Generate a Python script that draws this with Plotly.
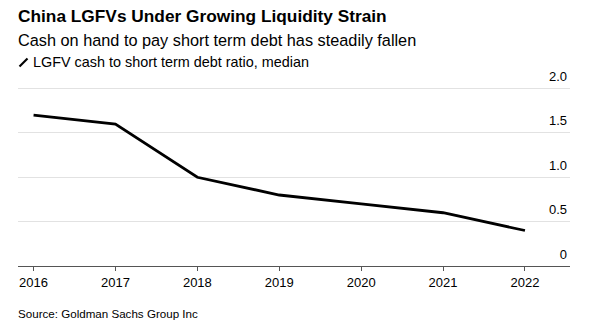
import plotly.graph_objects as go

# Median LGFV cash-to-short-term-debt ratio by year
years = [2016, 2017, 2018, 2019, 2020, 2021, 2022]
ratio = [1.7, 1.6, 1.0, 0.8, 0.7, 0.6, 0.4]
y_ticks = [0, 0.5, 1.0, 1.5, 2.0]
y_tick_text = ["0", "0.5", "1.0", "1.5", "2.0"]

title = "China LGFVs Under Growing Liquidity Strain"
subtitle = "Cash on hand to pay short term debt has steadily fallen"
series_name = "LGFV cash to short term debt ratio, median"
source = "Source: Goldman Sachs Group Inc"

FONT = "Liberation Sans, Arial, Helvetica, sans-serif"

W, H = 599, 325
M_L, M_R, M_T, M_B = 18, 29, 66, 59
PLOT_H = H - M_T - M_B
PX_PER_UNIT = 88.75  # vertical pixels per 1.0 of ratio
Y_MAX = PLOT_H / PX_PER_UNIT


def py(pix):
    """Convert a pixel row (from top) to paper y coordinate."""
    return (H - M_B - pix) / PLOT_H


def px(pix):
    """Convert a pixel column (from left) to paper x coordinate."""
    return (pix - M_L) / (W - M_L - M_R)


fig = go.Figure()
fig.add_trace(go.Scatter(
    x=years, y=ratio, mode="lines", name=series_name,
    line=dict(color="#000000", width=2.8),
    showlegend=False, hoverinfo="x+y",
))

fig.update_layout(
    width=W, height=H,
    margin=dict(l=M_L, r=M_R, t=M_T, b=M_B),
    paper_bgcolor="#ffffff", plot_bgcolor="#ffffff",
    font=dict(family=FONT, color="#000000"),
    xaxis=dict(
        range=[2015.81, 2022.55],
        tickmode="array", tickvals=years, ticktext=[str(y) for y in years],
        showgrid=False, zeroline=False,
        showline=True, linecolor="#555555", linewidth=1.2,
        ticks="outside", ticklen=4, tickcolor="#555555", tickwidth=1,
        tickfont=dict(size=13, color="#000000"),
        fixedrange=True,
    ),
    yaxis=dict(
        range=[0, Y_MAX],
        side="right",
        tickmode="array", tickvals=y_ticks, ticktext=y_tick_text,
        ticklabelposition="inside", ticklabelshift=-12, ticklabelstandoff=0,
        showgrid=True, gridcolor="#e2e2e2", gridwidth=1,
        zeroline=False, showline=False, ticks="",
        tickfont=dict(size=13, color="#000000"),
        fixedrange=True,
    ),
    annotations=[
        dict(text="<b>" + title + "</b>", xref="paper", yref="paper",
             x=px(16), y=py(15.5), xanchor="left", yanchor="middle",
             showarrow=False, font=dict(size=17.3, color="#000000")),
        dict(text=subtitle, xref="paper", yref="paper",
             x=px(16), y=py(40), xanchor="left", yanchor="middle",
             showarrow=False, font=dict(size=16.3, color="#000000")),
        dict(text=series_name, xref="paper", yref="paper",
             x=px(31), y=py(62), xanchor="left", yanchor="middle",
             showarrow=False, font=dict(size=14.4, color="#000000")),
        dict(text=source, xref="paper", yref="paper",
             x=px(16), y=py(313), xanchor="left", yanchor="middle",
             showarrow=False, font=dict(size=11.6, color="#000000")),
    ],
    shapes=[
        # legend glyph: short diagonal stroke
        dict(type="line", xref="paper", yref="paper",
             x0=px(19.5), y0=py(66.5), x1=px(27.5), y1=py(58.5),
             line=dict(color="#000000", width=2.2)),
    ],
)

fig.write_html("out.html")
